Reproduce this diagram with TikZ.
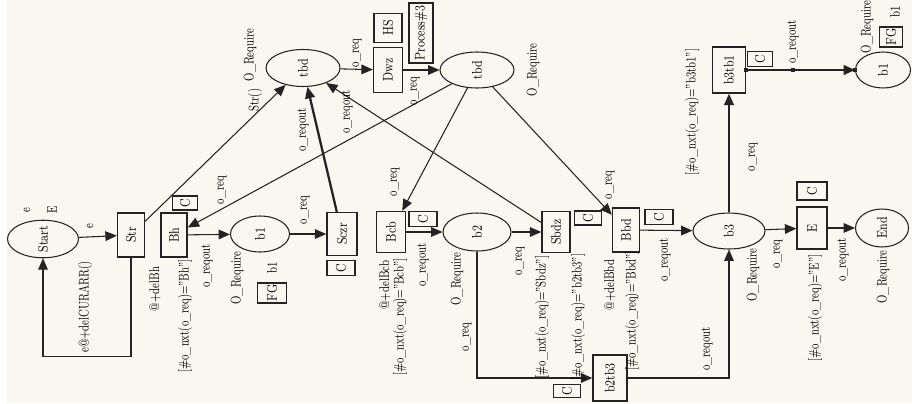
\documentclass[tikz,border=0pt]{standalone}
\usepackage{tikz}
\usetikzlibrary{arrows.meta, shapes.geometric}

\definecolor{paper}{RGB}{250,247,240}
\definecolor{ink}{RGB}{35,35,35}
\newcommand{\rt}[1]{\rotatebox{90}{\scalebox{0.8}[1]{#1}}}

\begin{document}
\begin{tikzpicture}[x=0.02cm, y=-0.02cm, font=\footnotesize,
    place/.style={ellipse, draw=ink, line width=0.6pt, inner sep=0pt},
    trans/.style={rectangle, draw=ink, line width=0.8pt, inner sep=0pt},
    tag/.style={rectangle, draw=ink, line width=0.8pt, inner sep=0pt},
    lbl/.style={inner sep=0pt, rotate=90, xscale=0.72},
    arc/.style={draw=ink, line width=0.6pt, -{Triangle[length=6.5pt,width=5.5pt]}},
    fat/.style={arc, line width=1.3pt},
    handle/.style={rectangle, fill=ink, inner sep=0pt, minimum size=0.09cm}]

  \useasboundingbox (0,0) rectangle (912,403);
  \fill[white] (0,0) rectangle (912,403);
  \fill[paper] (7,0) rectangle (912,403);

  % places
  \node[place, minimum width=1.42cm, minimum height=0.7cm] (start) at (43,239) {\rt{Start}};
  \node[place, minimum width=1.48cm, minimum height=0.74cm] (tbdl) at (303,68) {\rt{tbd}};
  \node[place, minimum width=1.48cm, minimum height=0.72cm] (tbdr) at (477,70) {\rt{tbd}};
  \node[place, minimum width=1.18cm, minimum height=0.72cm] (bone) at (260,234) {\rt{b1}};
  \node[place, minimum width=1.36cm, minimum height=0.76cm] (btwo) at (477,232) {\rt{b2}};
  \node[place, minimum width=1.44cm, minimum height=0.72cm] (bthree) at (729,231) {\rt{b3}};
  \node[place, minimum width=1.06cm, minimum height=0.76cm] (fin) at (882,228) {\rt{End}};
  \node[place, minimum width=1.1cm, minimum height=0.72cm] (bonex) at (883,70) {\rt{b1}};

  % transitions
  \node[trans, minimum width=0.54cm, minimum height=0.88cm] (str) at (131,235) {\rt{Str}};
  \node[trans, minimum width=0.52cm, minimum height=0.88cm] (bh) at (174,235) {\rt{Bh}};
  \node[trans, minimum width=0.6cm, minimum height=0.86cm] (sczr) at (342,234) {\rt{Sczr}};
  \node[trans, minimum width=0.58cm, minimum height=0.9cm] (dwz) at (388,70) {\rt{Dwz}};
  \node[trans, minimum width=0.58cm, minimum height=0.82cm] (bcb) at (391,232) {\rt{Bcb}};
  \node[trans, minimum width=0.56cm, minimum height=0.82cm] (sbdz) at (556,232) {\rt{Sbdz}};
  \node[trans, minimum width=0.54cm, minimum height=0.88cm] (bbd) at (626,230) {\rt{Bbd}};
  \node[trans, minimum width=0.68cm, minimum height=0.92cm] (btwotb) at (610,378) {\rt{b2tb3}};
  \node[trans, minimum width=0.6cm, minimum height=0.84cm] (etr) at (812,228) {\rt{E}};
  \node[trans, minimum width=0.66cm, minimum height=0.92cm] (bthreetb) at (729,70) {\rt{b3tb1}};

  % tags
  \node[tag, minimum width=0.5cm, minimum height=0.28cm] (cbh) at (185,203) {\rt{C}};
  \node[tag, minimum width=0.58cm, minimum height=0.4cm] (fgone) at (272,293) {\rt{FG}};
  \node[tag, minimum width=0.56cm, minimum height=0.3cm] (csczr) at (341,268) {\rt{C}};
  \node[tag, minimum width=0.56cm, minimum height=0.58cm] (hs) at (388,28) {\rt{HS}};
  \node[tag, minimum width=0.48cm, minimum height=1.2cm] (proc) at (421,33) {\rt{Process\#3}};
  \node[tag, minimum width=0.56cm, minimum height=0.3cm] (cbcb) at (423,219) {\rt{C}};
  \node[tag, minimum width=0.54cm, minimum height=0.28cm] (csbdz) at (588,218) {\rt{C}};
  \node[tag, minimum width=0.56cm, minimum height=0.3cm] (cbbd) at (659,217) {\rt{C}};
  \node[tag, minimum width=0.6cm, minimum height=0.36cm] (cetr) at (812,191) {\rt{C}};
  \node[tag, minimum width=0.5cm, minimum height=0.3cm] (cbthreetb) at (760,59) {\rt{C}};
  \node[tag, minimum width=0.46cm, minimum height=0.4cm] (fgtwo) at (891,37) {\rt{FG}};
  \node[tag, minimum width=0.54cm, minimum height=0.26cm] (cbtwotb) at (567,391) {\rt{C}};

  % arcs
  \draw[arc] (start) -- (str);
  \draw[arc] (str.south) -- ++(0,99) -| (start.south);
  \draw[arc] (str) -- (tbdl);
  \draw[arc] (bh) -- (bone);
  \draw[arc] (bone) -- (sczr);
  \draw[fat] (sczr) -- (tbdl);
  \draw[arc] (tbdl) -- (dwz);
  \draw[arc] (dwz) -- (tbdr);
  \draw[arc] (tbdr) -- (bh);
  \draw[arc] (tbdr) -- (bcb);
  \draw[arc] (tbdr) -- (bbd);
  \draw[arc] (sbdz) -- (tbdl);
  \draw[arc] (bcb) -- (btwo);
  \draw[arc] (btwo) -- (sbdz);
  \draw[arc] (btwo.south) |- (btwotb.west);
  \draw[arc] (btwotb.east) -| (bthree.south);
  \draw[arc] (bbd) -- (bthree);
  \draw[fat] (bthree) -- (bthreetb);
  \draw[fat] (bthreetb) -- (bonex);
  \draw[arc] (bthree) -- (etr);
  \draw[arc] (etr) -- (fin);
  \node[handle] (hone) at (bthreetb.east) {};
  \node[handle] (htwo) at (793,70) {};
  \node[handle] (hthree) at (bonex.west) {};

  % inscriptions
  \node[lbl] (mstart) at (27,210) {e};
  \node[lbl] (cstart) at (52,210) {E};
  \node[lbl] (astart) at (90,226) {e};
  \node[lbl] (aloop) at (85,307) {e@+delCURARR()};
  \node[lbl] (astr) at (255,100) {Str()};
  \node[lbl] (rtbdl) at (250,55) {O\_Require};
  \node[lbl] (abh) at (222,190) {o\_req};
  \node[lbl] (dbh) at (155,289) {@+delBh};
  \node[lbl] (gbh) at (185,316) {[\#o\_nxt(o\_req)="Bh"]};
  \node[lbl] (abone) at (207,266) {o\_reqout};
  \node[lbl] (rbone) at (237,278) {O\_Require};
  \node[lbl] (fbone) at (272,268) {b1};
  \node[lbl] (asczr) at (305,210) {o\_req};
  \node[lbl] (osczr) at (303,130) {o\_reqout};
  \node[lbl] (osbdz) at (347,112) {o\_reqout};
  \node[lbl] (adwz) at (357,53) {o\_req};
  \node[lbl] (odwz) at (415,91) {o\_req};
  \node[lbl] (rtbdr) at (533,70) {O\_Require};
  \node[lbl] (abcb) at (395,182) {o\_req};
  \node[lbl] (obcb) at (423,265) {o\_reqout};
  \node[lbl] (dbcb) at (385,285) {@+delBcb};
  \node[lbl] (gbcb) at (400,317) {[\#o\_nxt(o\_req)="Bcb"]};
  \node[lbl] (rbtwo) at (457,279) {O\_Require};
  \node[lbl] (asbdz) at (520,261) {o\_req};
  \node[lbl] (abtwotb) at (467,337) {o\_req};
  \node[lbl] (gsbdz) at (542,317) {[\#o\_nxt(o\_req)="Sbdz"]};
  \node[lbl] (gbtwotb) at (578,317) {[\#o\_nxt(o\_req)="b2tb3"]};
  \node[lbl] (dbbd) at (610,285) {@+delBbd};
  \node[lbl] (gbbd) at (632,311) {[\#o\_nxt(o\_req)="Bbd"]};
  \node[lbl] (obbd) at (665,260) {o\_reqout};
  \node[lbl] (abbd) at (610,185) {o\_req};
  \node[lbl] (obtwotb) at (707,349) {o\_reqout};
  \node[lbl] (rbthree) at (753,275) {O\_Require};
  \node[lbl] (abthreetb) at (753,157) {o\_req};
  \node[lbl] (gbthreetb) at (692,112) {[\#o\_nxt(o\_req)="b3tb1"]};
  \node[lbl] (aetr) at (778,254) {o\_req};
  \node[lbl] (getr) at (815,308) {[\#o\_nxt(o\_req)="E"]};
  \node[lbl] (oetr) at (843,260) {o\_reqout};
  \node[lbl] (rfin) at (883,277) {O\_Require};
  \node[lbl] (obthreetb) at (793,42) {o\_reqout};
  \node[lbl] (rbonex) at (867,27) {O\_Require};
  \node[lbl] (fbonex) at (895,12) {b1};
\end{tikzpicture}
\end{document}
